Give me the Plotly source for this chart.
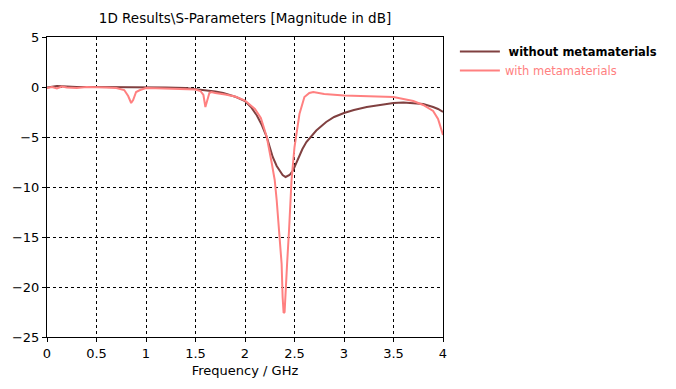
import plotly.graph_objects as go

freq_without = [0, 0.1, 0.2, 0.3, 0.5, 0.8, 1.0, 1.2, 1.4, 1.5, 1.6, 1.7, 1.78, 1.85, 1.91, 2.0, 2.06, 2.12,
                2.17, 2.22, 2.28, 2.32, 2.35, 2.38, 2.41, 2.45, 2.485, 2.52, 2.55, 2.58, 2.62, 2.67, 2.72,
                2.82, 2.9, 3.0, 3.1, 3.23, 3.35, 3.5, 3.6, 3.72, 3.8, 3.9, 3.95, 4.0]
db_without = [-0.05, 0.1, 0.05, 0.0, 0.0, 0.0, 0.0, -0.05, -0.1, -0.2, -0.3, -0.45, -0.6, -0.8, -1.0, -1.4,
              -2.0, -2.85, -3.8, -5.0, -7.0, -7.9, -8.4, -8.8, -9.0, -8.8, -8.35, -7.6, -6.8, -6.2, -5.5,
              -4.9, -4.35, -3.5, -3.0, -2.6, -2.3, -2.0, -1.8, -1.6, -1.55, -1.6, -1.7, -2.0, -2.2, -2.5]

freq_with = [0, 0.05, 0.1, 0.15, 0.2, 0.3, 0.4, 0.5, 0.6, 0.7, 0.78, 0.82, 0.85, 0.87, 0.9, 0.94, 1.0, 1.1,
             1.2, 1.3, 1.4, 1.5, 1.55, 1.58, 1.6, 1.62, 1.64, 1.66, 1.7, 1.8, 1.9, 2.0, 2.1, 2.16, 2.22,
             2.27, 2.3, 2.32, 2.345, 2.37, 2.38, 2.39, 2.4, 2.41, 2.425, 2.445, 2.47, 2.5, 2.55, 2.6, 2.65,
             2.69, 2.8, 3.0, 3.2, 3.4, 3.5, 3.6, 3.7, 3.8, 3.9, 3.95, 4.0]
db_with = [-0.1, 0.0, -0.15, 0.05, -0.05, -0.1, 0.0, 0.0, -0.05, -0.1, -0.3, -0.9, -1.6, -1.3, -0.5, -0.3,
           -0.1, -0.12, -0.15, -0.18, -0.2, -0.25, -0.4, -0.8, -2.0, -1.3, -0.6, -0.5, -0.6, -0.75, -0.95,
           -1.35, -2.2, -3.1, -5.0, -7.6, -9.3, -11.3, -14.3, -17.7, -21.0, -22.6, -22.5, -21.0, -17.7,
           -14.3, -9.3, -6.0, -2.7, -1.0, -0.6, -0.5, -0.7, -0.85, -0.9, -0.95, -1.0, -1.2, -1.4, -1.8,
           -2.4, -3.2, -4.8]

x_ticks = [0, 0.5, 1, 1.5, 2, 2.5, 3, 3.5, 4]
x_tick_labels = ["0", "0.5", "1", "1.5", "2", "2.5", "3", "3.5", "4"]
y_ticks = [5, 0, -5, -10, -15, -20, -25]

dark = "rgb(128,64,64)"
pink = "rgb(255,128,128)"
font = "DejaVu Sans"

fig = go.Figure()
fig.add_trace(go.Scatter(x=freq_without, y=db_without, mode="lines",
                         line=dict(color=dark, width=2),
                         name=" <b>without metamaterials</b>"))
fig.add_trace(go.Scatter(x=freq_with, y=db_with, mode="lines",
                         line=dict(color=pink, width=2),
                         name="<span style='color:rgb(255,128,128)'>with metamaterials</span>"))

axis_common = dict(showline=True, linecolor="black", linewidth=1, mirror=True,
                   showgrid=True, gridcolor="black", griddash="3px,3px", gridwidth=1,
                   zeroline=False, ticks="outside", ticklen=4, tickcolor="black",
                   tickfont=dict(family=font, size=13, color="black"))

fig.update_layout(
    width=676, height=389,
    margin=dict(l=47, r=233, t=37, b=52, autoexpand=False),
    paper_bgcolor="white", plot_bgcolor="white",
    font=dict(family=font, size=12, color="black"),
    title=dict(text="1D Results\\S-Parameters [Magnitude in dB]", x=(47 + 443) / 2 / 676,
               xanchor="center", y=1 - 18 / 389, yanchor="middle",
               font=dict(family=font, size=13.5, color="black")),
    legend=dict(x=1.03, y=1.0, xanchor="left", yanchor="top",
                font=dict(family=font, size=11.5, color="black"),
                bgcolor="rgba(0,0,0,0)", tracegroupgap=6, itemwidth=40),
    xaxis=dict(range=[0, 4], tickvals=x_ticks, ticktext=x_tick_labels,
               title=dict(text="Frequency / GHz", font=dict(family=font, size=13), standoff=6),
               **axis_common),
    yaxis=dict(range=[-25, 5], tickvals=y_ticks, **axis_common),
)

fig.write_html("out.html")
